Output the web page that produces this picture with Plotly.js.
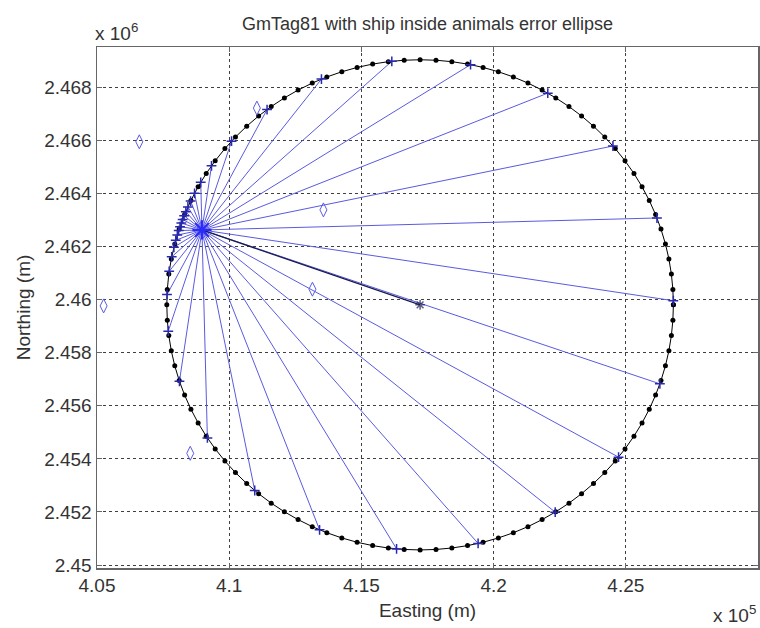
<!DOCTYPE html>
<html>
<head>
<meta charset="utf-8">
<script src="https://cdn.plot.ly/plotly-3.0.1.min.js"></script>
<style>html,body{margin:0;padding:0;background:#fff;}#chart{width:760px;height:628px;}</style>
</head>
<body>
<div id="chart"></div>
<script>
// Error ellipse outline (Easting, Northing in m)
const ellipseX = [426800, 426781, 426724, 426630, 426499, 426331, 426127, 425888, 425615, 425309, 424970, 424602, 424204, 423778, 423327, 422851, 422353, 421835, 421299, 420747, 420180, 419602, 419015, 418421, 417822, 417220,
  416618, 416019, 415425, 414838, 414260, 413693, 413141, 412605, 412087, 411589, 411113, 410662, 410236, 409838, 409470, 409131, 408825, 408552, 408313, 408109, 407941, 407810, 407716, 407659, 407640,
  407659, 407716, 407810, 407941, 408109, 408313, 408552, 408825, 409131, 409470, 409838, 410236, 410662, 411113, 411589, 412087, 412605, 413141, 413693, 414260, 414838, 415425, 416019, 416618, 417220,
  417822, 418421, 419015, 419602, 420180, 420747, 421299, 421835, 422353, 422851, 423327, 423778, 424204, 424602, 424970, 425309, 425615, 425888, 426127, 426331, 426499, 426630, 426724, 426781, 426800];
const ellipseY = [2459800, 2460380, 2460957, 2461530, 2462095, 2462652, 2463198, 2463731, 2464247, 2464746, 2465225, 2465683, 2466118, 2466528, 2466912, 2467267, 2467593, 2467888, 2468152, 2468382, 2468578, 2468740, 2468867, 2468957, 2469012, 2469030,
  2469012, 2468957, 2468867, 2468740, 2468578, 2468382, 2468152, 2467888, 2467593, 2467267, 2466912, 2466528, 2466118, 2465683, 2465225, 2464746, 2464247, 2463731, 2463198, 2462652, 2462095, 2461530, 2460957, 2460380, 2459800,
  2459220, 2458643, 2458070, 2457505, 2456948, 2456402, 2455869, 2455353, 2454854, 2454375, 2453917, 2453482, 2453072, 2452688, 2452333, 2452007, 2451712, 2451448, 2451218, 2451022, 2450860, 2450733, 2450643, 2450588, 2450570,
  2450588, 2450643, 2450733, 2450860, 2451022, 2451218, 2451448, 2451712, 2452007, 2452333, 2452688, 2453072, 2453482, 2453917, 2454375, 2454854, 2455353, 2455869, 2456402, 2456948, 2457505, 2458070, 2458643, 2459220, 2459800];

// Ship position
const shipX = [408970];
const shipY = [2462620];

// Ellipse centre (animal position)
const centerX = [417220];
const centerY = [2459800];

// Ends of the rays from the ship to the ellipse
const rayEndX = [426178, 424514, 422049, 419128, 416150, 413489, 411432, 410089, 409331, 408923, 408689, 408541, 408438, 408360, 408296, 408240, 408190, 408140, 408090, 408037, 407978, 407908, 407825, 407730, 407648, 407695, 408118, 409175, 410966, 413418, 416330, 419414, 422330, 424726, 426289, 426798];
const rayEndY = [2463071, 2465782, 2467772, 2468845, 2468972, 2468301, 2467155, 2465963, 2465037, 2464414, 2464000, 2463708, 2463488, 2463310, 2463156, 2463016, 2462881, 2462744, 2462597, 2462430, 2462229, 2461969, 2461607, 2461061, 2460186, 2458810, 2456920, 2454788, 2452808, 2451328, 2450610, 2450815, 2451993, 2454065, 2456825, 2459956];

// Other positions (diamonds)
const diamondX = [406600, 411046, 405250, 413564, 413148, 408526];
const diamondY = [2465940, 2467210, 2459760, 2463376, 2460390, 2454209];

const xTickVals = [405000, 410000, 415000, 420000, 425000];
const xTickText = ['4.05', '4.1', '4.15', '4.2', '4.25'];
const yTickVals = [2450000, 2452000, 2454000, 2456000, 2458000, 2460000, 2462000, 2464000, 2466000, 2468000];
const yTickText = ['2.45', '2.452', '2.454', '2.456', '2.458', '2.46', '2.462', '2.464', '2.466', '2.468'];

const FONT = 'Liberation Sans, Arial, sans-serif';
const TXT = '#333333';

const rx = [], ry = [];
for (let i = 0; i < rayEndX.length; i++) {
  rx.push(shipX[0], rayEndX[i], null);
  ry.push(shipY[0], rayEndY[i], null);
}

const traces = [
  {x: rx, y: ry, mode: 'lines', line: {color: '#5a5ae0', width: 1}, hoverinfo: 'skip'},
  {x: ellipseX, y: ellipseY, mode: 'lines+markers', line: {color: '#000000', width: 1},
   marker: {color: '#000000', size: 5, symbol: 'circle'}},
  {x: rayEndX, y: rayEndY, mode: 'markers',
   marker: {symbol: 'cross-thin-open', size: 7, color: '#2828b0', line: {color: '#2828b0', width: 1.5}}},
  {x: [shipX[0], centerX[0]], y: [shipY[0], centerY[0]], mode: 'lines+markers',
   line: {color: '#1a1a50', width: 1.3},
   marker: {symbol: 'asterisk-open', size: [0, 8], color: '#1a1a50', line: {color: '#1a1a50', width: 1.5}}},
  {x: diamondX, y: diamondY, mode: 'markers',
   marker: {symbol: 'diamond-tall-open', size: 10, color: '#5a5ae6', line: {color: '#5a5ae6', width: 1}}},
  {x: shipX, y: shipY, mode: 'markers',
   marker: {symbol: 'asterisk-open', size: 16, color: '#2a2aff', line: {color: '#2a2aff', width: 2}}}
];

const axisCommon = {
  showgrid: true, gridcolor: '#404040', griddash: 'dot', gridwidth: 1,
  zeroline: false, showline: true, linecolor: '#666666', linewidth: 1.5, mirror: 'ticks',
  ticks: 'inside', ticklen: 5, tickcolor: '#666666', tickmode: 'array',
  tickfont: {family: FONT, size: 19, color: TXT}
};

const layout = {
  width: 760, height: 628,
  margin: {l: 97, r: 2, t: 47, b: 60},
  paper_bgcolor: '#ffffff', plot_bgcolor: '#ffffff',
  showlegend: false,
  title: {text: 'GmTag81 with ship inside animals error ellipse', x: 0.5, xref: 'paper', xanchor: 'center',
          y: 1 - 24/628, yref: 'container', yanchor: 'middle', font: {family: FONT, size: 18, color: TXT}},
  xaxis: Object.assign({}, axisCommon, {
    range: [405000, 430000], tickvals: xTickVals, ticktext: xTickText,
    title: {text: 'Easting (m)', font: {family: FONT, size: 19, color: TXT}, standoff: 8}
  }),
  yaxis: Object.assign({}, axisCommon, {
    range: [2449890, 2469510], tickvals: yTickVals, ticktext: yTickText,
    title: {text: 'Northing (m)', font: {family: FONT, size: 19, color: TXT}, standoff: 8}
  }),
  annotations: [
    {text: 'x 10<sup>6</sup>', xref: 'paper', yref: 'paper', x: 0, y: 1, xanchor: 'left', yanchor: 'bottom',
     xshift: -4, yshift: 1, showarrow: false, font: {family: FONT, size: 19, color: TXT}},
    {text: 'x 10<sup>5</sup>', xref: 'paper', yref: 'paper', x: 1, y: 0, xanchor: 'right', yanchor: 'bottom',
     xshift: 0, yshift: -60, showarrow: false, font: {family: FONT, size: 19, color: TXT}}
  ]
};

Plotly.newPlot('chart', traces, layout, {displayModeBar: false, staticPlot: true});
</script>
</body>
</html>
